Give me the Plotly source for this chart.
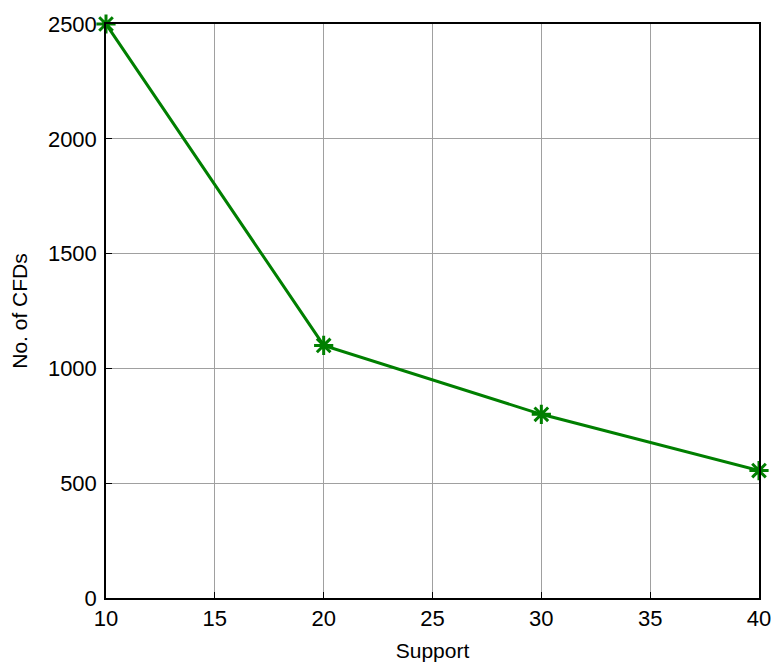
import plotly.graph_objects as go

support = [10, 20, 30, 40]
num_cfds = [2500, 1100, 800, 555]
x_ticks = [10, 15, 20, 25, 30, 35, 40]
y_ticks = [0, 500, 1000, 1500, 2000, 2500]

green = "#007F00"
font_family = "Liberation Sans, Arial, sans-serif"

fig = go.Figure()
fig.add_trace(go.Scatter(
    x=support, y=num_cfds, mode="lines+markers",
    line=dict(color=green, width=3),
    marker=dict(symbol="asterisk-open", size=16, color=green, line=dict(color=green, width=3)),
    cliponaxis=False, hoverinfo="skip",
))

axis_common = dict(
    showline=True, linecolor="black", linewidth=1.5, mirror=True,
    ticks="inside", ticklen=6, tickcolor="black",
    showgrid=True, gridcolor="#a0a0a0", gridwidth=1,
    zeroline=False, automargin=False,
    tickfont=dict(family=font_family, size=22, color="black"),
)
fig.update_xaxes(range=[10, 40], tickvals=x_ticks,
                 title=dict(text="Support", font=dict(family=font_family, size=21, color="black"), standoff=13),
                 **axis_common)
fig.update_yaxes(range=[0, 2500], tickvals=y_ticks, ticklabelstandoff=3,
                 title=dict(text="No. of CFDs", font=dict(family=font_family, size=21, color="black"), standoff=15),
                 **axis_common)
fig.update_layout(
    width=772, height=666,
    margin=dict(l=106, r=13, t=24, b=68, autoexpand=False),
    paper_bgcolor="white", plot_bgcolor="white",
    showlegend=False,
)
fig.write_html("out.html", config={"displayModeBar": False},
               post_script="document.body.style.margin='0';document.body.style.overflow='hidden';")
